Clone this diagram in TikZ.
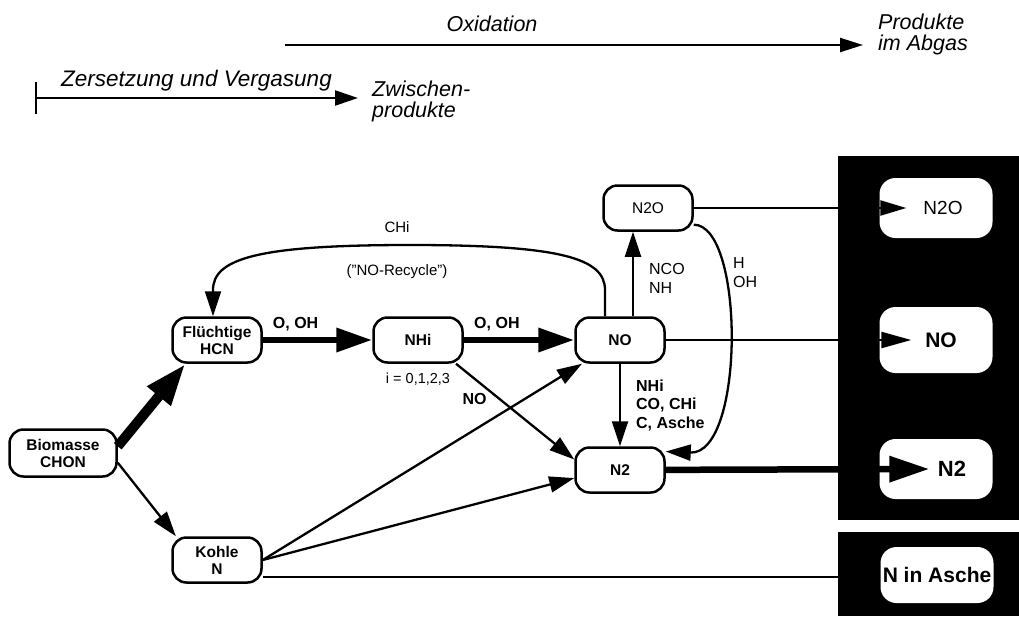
\documentclass[tikz,border=0pt]{standalone}
\usepackage{fontspec}
\setmainfont{Liberation Sans}
\usetikzlibrary{arrows.meta,positioning}

\tikzset{
  stoff/.style={draw,line width=2.5pt,rounded corners=14pt,minimum width=89pt,
    minimum height=45pt,inner sep=1pt,align=center,
    font=\fontsize{15.5}{17}\selectfont\bfseries},
  ausgang/.style={fill=white,rounded corners=16pt,minimum width=113pt,
    minimum height=60pt,inner sep=0pt},
  pfeil/.style={line width=2.3pt,-{Triangle[length=25pt,width=16pt]}},
  dick/.style={line width=6.5pt,-{Triangle[length=36pt,width=23pt]}},
  marke/.style={font=\fontsize{16}{18.5}\selectfont\bfseries,align=left,inner sep=0pt},
  duenn/.style={font=\fontsize{16}{19}\selectfont,align=left,inner sep=0pt},
  kopf/.style={font=\fontsize{21.5}{19}\selectfont\itshape,align=left},
}

\begin{document}
\begin{tikzpicture}[x=1pt,y=-1pt]
  \useasboundingbox (0,0) rectangle (1019,616);
  %% Produkte im Abgas (Hintergrund)
  \fill (838,156) rectangle (1019,520);
  \fill (838,532) rectangle (1019,616);
  \node[ausgang,font=\fontsize{19}{22}\selectfont] (on2o) at (936,208) {\hspace*{14pt}N2O};
  \node[ausgang,minimum height=66pt,font=\fontsize{21}{24}\selectfont\bfseries] (ono) at (936,340) {\hspace*{10pt}NO};
  \node[ausgang,font=\fontsize{22}{24}\selectfont\bfseries] (on2) at (936,469) {\hspace*{32pt}N2};
  \node[ausgang,minimum height=56pt,font=\fontsize{21}{24}\selectfont\bfseries] (oasche) at (937,575) {N in Asche};
  %% Kopfzeile
  \node[kopf] (oxi) at (492,24) {Oxidation};
  \node[kopf,anchor=west,inner xsep=15pt] (abgas) at (863,34) {Produkte\\[2pt]im Abgas};
  \node[kopf,anchor=west,inner xsep=14pt] (zwi) at (358,101) {Zwischen-\\[2pt]produkte};
  \coordinate (oanfang) at (285,45);
  \coordinate (zanfang) at (35,98);
  \draw[line width=2.3pt,-{Triangle[length=23pt,width=14pt]}] (oanfang) -- (oanfang -| abgas.west);
  \draw[line width=2.3pt,{Bar[width=32pt]}-{Triangle[length=23pt,width=15pt]}] (zanfang)
    -- node[kopf,font=\fontsize{22.5}{19}\selectfont\itshape,above=2pt] (zers) {Zersetzung und Vergasung} (zanfang -| zwi.west);
  %% Stoffe
  \node[stoff,minimum width=107pt,minimum height=47pt] (bio) at (63,453) {Biomasse\\CHON};
  \node[stoff] (fl) at (217,340) {Flüchtige\\HCN};
  \node[stoff] (kohle) at (217,560) {Kohle\\N};
  \node[stoff] (nhi) at (418,340) {NHi};
  \node[stoff] (no) at (620,340) {NO};
  \node[stoff] (n2) at (620,470) {N2};
  \node[stoff,font=\fontsize{15.5}{17}\selectfont] (n2o) at (648,208) {N2O};
  \node[duenn,font=\fontsize{14.5}{16}\selectfont,below=9pt of nhi] (idx) {i = 0,1,2,3};
  %% Zersetzung
  \draw[line width=10pt,-{Triangle[length=42pt,width=28pt]}] (bio.7) -- (fl.217);
  \draw[pfeil] (bio.-10) -- (kohle.150);
  %% Oxidation
  \draw[dick] (fl) -- node[marke,above=6pt,pos=0.3] {O, OH} (nhi);
  \draw[dick] (nhi) -- node[marke,above=6pt,pos=0.3] {O, OH} (no);
  \draw[pfeil] (nhi.-32) -- node[marke,pos=0.2,below=9pt,xshift=-5pt] {NO} (n2.167);
  \draw[pfeil] (kohle.east) -- (no.212);
  \draw[pfeil] (kohle.east) -- (n2.190);
  \draw[pfeil] ([xshift=13pt]no.north)
    -- node[duenn,pos=0.45,right=15pt] {NCO\\NH} ([xshift=13pt]no.north |- n2o.south);
  \draw[pfeil] (no) -- node[marke,right=15pt] {NHi\\CO, CHi\\C, Asche} (n2);
  \draw[pfeil] (n2o.-20) .. controls (745,225) and (745,455) .. (n2.22);
  \node[duenn,anchor=west] (hoh) at (733,273) {H\\OH};
  %% NO-Recycle
  \draw[pfeil] ([xshift=-15pt]no.north) -- (605,290) .. controls (605,258) and (560,245) .. (410,245)
    .. controls (260,245) and (213,258) .. (213,290) -- ([xshift=-4pt]fl.north);
  \node[duenn,font=\fontsize{15}{16}\selectfont] (chi) at (397,227) {CHi};
  \node[duenn,font=\fontsize{15}{16}\selectfont] (recyc) at (397,272) {("NO-Recycle")};
  %% Ausgaenge
  \draw[pfeil,-{Triangle[length=26pt,width=15pt]}] (n2o) -- ([xshift=27pt]on2o.west);
  \draw[pfeil,-{Triangle[length=30pt,width=16pt]}] (no) -- ([xshift=32pt]ono.west);
  \draw[dick,-{Triangle[length=40pt,width=25pt]}] (n2) -- ([xshift=50pt]on2.west);
  \draw[pfeil] (kohle.-20) -- (kohle.-20 -| oasche.west);
\end{tikzpicture}
\end{document}
